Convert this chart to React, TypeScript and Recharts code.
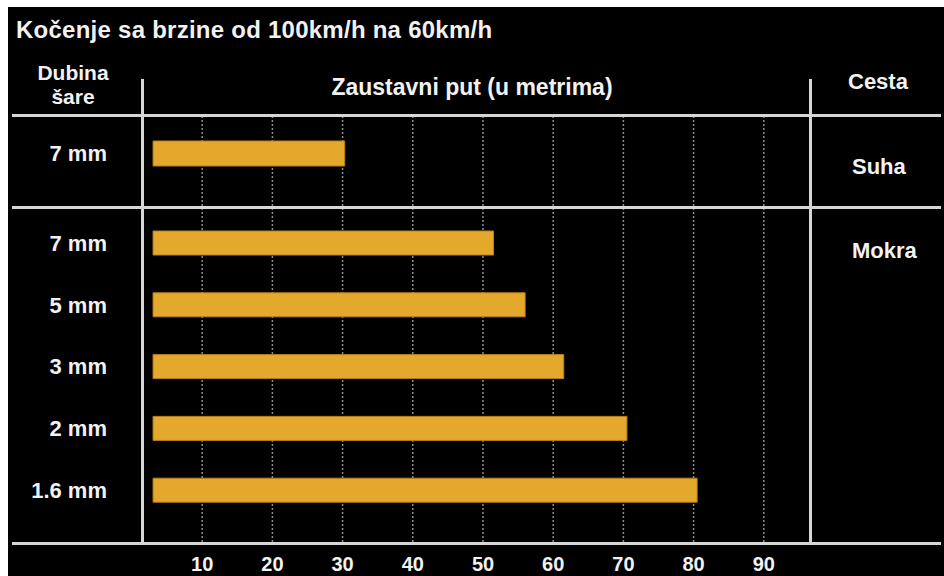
import React from 'react';
import { BarChart, Bar, XAxis, YAxis, CartesianGrid } from 'recharts';

const dryDepths = ['7 mm'];
const dryDistances = [30.3];
const wetDepths = ['7 mm', '5 mm', '3 mm', '2 mm', '1.6 mm'];
const wetDistances = [51.5, 56, 61.5, 70.5, 80.5];
const distanceTicks = [10, 20, 30, 40, 50, 60, 70, 80, 90];
const barStart = 3;

const dryData = dryDepths.map((depth, i) => ({ depth, range: [barStart, dryDistances[i]] }));
const wetData = wetDepths.map((depth, i) => ({ depth, range: [barStart, wetDistances[i]] }));

const FONT = "'Liberation Sans', Arial, Helvetica, sans-serif";
const TEXT = '#f2f2f2';
const LINE = '#d6d6d6';
const BAR = '#E4A92C';

const chartMargin = { top: 0, bottom: 0, left: 32, right: 110 };

const labelStyle = (left: number, top: number, size: number, extra: React.CSSProperties = {}): React.CSSProperties => ({
    position: 'absolute',
    left,
    top,
    fontSize: size,
    lineHeight: `${size}px`,
    fontWeight: 'bold',
    color: TEXT,
    whiteSpace: 'nowrap',
    ...extra,
});

const hLine = (top: number): React.CSSProperties => ({
    position: 'absolute', left: 12, width: 929, top: top - 1.5, height: 3, background: LINE,
});
const vLine = (left: number): React.CSSProperties => ({
    position: 'absolute', left: left - 1.5, width: 3, top: 79, height: 465, background: LINE,
});

const depthTick = { fill: TEXT, fontSize: 22, fontWeight: 'bold' as const, fontFamily: FONT };

const App: React.FC = () => {
    return (
        <div style={{ position: 'absolute', left: 0, top: 0, width: 944, height: 576, background: '#fff', fontFamily: FONT, overflow: 'hidden' }}>
            <div style={{ position: 'absolute', left: 8, top: 7, width: 936, height: 569, background: '#000' }} />

            <div style={{ position: 'absolute', left: 0, top: 116 }}>
                <BarChart width={944} height={92} data={dryData} layout="vertical" margin={chartMargin}>
                    <CartesianGrid horizontal={false} syncWithTicks stroke="#8c8c8c" strokeWidth={1.5} strokeDasharray="2 2" />
                    <XAxis type="number" domain={[0, 100]} ticks={distanceTicks} interval={0} hide />
                    <YAxis
                        type="category"
                        dataKey="depth"
                        width={100}
                        axisLine={false}
                        tickLine={false}
                        tickSize={0}
                        tickMargin={25}
                        padding={{ top: 12, bottom: 30 }}
                        tick={depthTick}
                    />
                    <Bar dataKey="range" fill={BAR} stroke="#b7801c" strokeWidth={1} barSize={25} isAnimationActive={false} />
                </BarChart>
            </div>

            <div style={{ position: 'absolute', left: 0, top: 208 }}>
                <BarChart width={944} height={368} data={wetData} layout="vertical" margin={chartMargin}>
                    <CartesianGrid horizontal={false} syncWithTicks stroke="#8c8c8c" strokeWidth={1.5} strokeDasharray="2 2" />
                    <XAxis
                        type="number"
                        domain={[0, 100]}
                        ticks={distanceTicks}
                        interval={0}
                        height={33}
                        axisLine={false}
                        tickLine={false}
                        tickSize={0}
                        tickMargin={14}
                        tick={{ fill: TEXT, fontSize: 20, fontWeight: 'bold', fontFamily: FONT }}
                    />
                    <YAxis
                        type="category"
                        dataKey="depth"
                        width={100}
                        axisLine={false}
                        tickLine={false}
                        tickSize={0}
                        tickMargin={25}
                        padding={{ top: 4, bottom: 22 }}
                        tick={depthTick}
                    />
                    <Bar dataKey="range" fill={BAR} stroke="#b7801c" strokeWidth={1} barSize={24} isAnimationActive={false} />
                </BarChart>
            </div>

            <div style={hLine(115.5)} />
            <div style={hLine(207)} />
            <div style={hLine(543)} />
            <div style={vLine(142.5)} />
            <div style={vLine(810)} />

            <div style={labelStyle(16, 18, 24, { letterSpacing: 0.25 })}>Kočenje sa brzine od 100km/h na 60km/h</div>
            <div style={labelStyle(13, 62, 21, { width: 120, textAlign: 'center' })}>Dubina</div>
            <div style={labelStyle(13, 86, 21, { width: 120, textAlign: 'center' })}>šare</div>
            <div style={labelStyle(272, 76, 23, { width: 400, textAlign: 'center' })}>Zaustavni put (u metrima)</div>
            <div style={labelStyle(848, 71, 22)}>Cesta</div>
            <div style={labelStyle(852, 156, 22)}>Suha</div>
            <div style={labelStyle(852, 240, 22)}>Mokra</div>
        </div>
    );
};

export default App;
